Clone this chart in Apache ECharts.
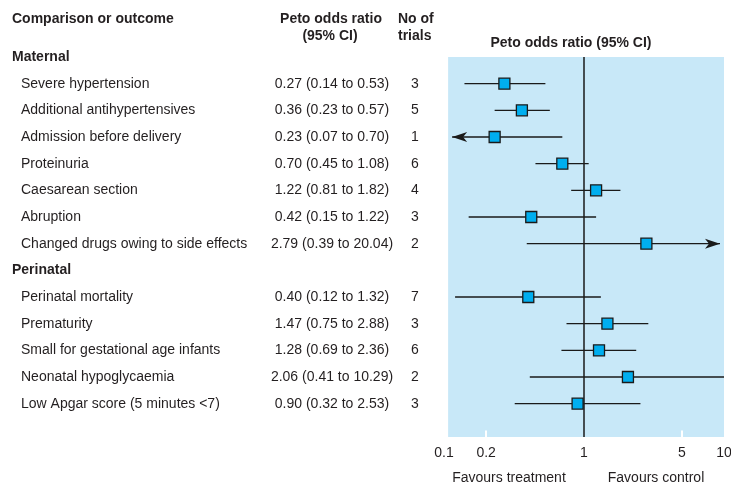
<!DOCTYPE html>
<html>
<head>
<meta charset="utf-8">
<script src="https://cdn.jsdelivr.net/npm/echarts@6/dist/echarts.min.js"></script>
<style>
  html, body { margin: 0; padding: 0; background: #ffffff; }
  #chart { width: 731px; height: 485px; }
</style>
</head>
<body>
<div id="chart"></div>
<script>
// Outcomes grouped by section
const maternalOutcomes = [
  'Severe hypertension',
  'Additional antihypertensives',
  'Admission before delivery',
  'Proteinuria',
  'Caesarean section',
  'Abruption',
  'Changed drugs owing to side effects'
];
const perinatalOutcomes = [
  'Perinatal mortality',
  'Prematurity',
  'Small for gestational age infants',
  'Neonatal hypoglycaemia',
  'Low Apgar score (5 minutes <7)'
];
const sections = ['Maternal', 'Perinatal'];

// Peto odds ratios with 95% CI, maternal then perinatal
const oddsRatio = [0.27, 0.36, 0.23, 0.70, 1.22, 0.42, 2.79, 0.40, 1.47, 1.28, 2.06, 0.90];
const ciLow     = [0.14, 0.23, 0.07, 0.45, 0.81, 0.15, 0.39, 0.12, 0.75, 0.69, 0.41, 0.32];
const ciHigh    = [0.53, 0.57, 0.70, 1.08, 1.82, 1.22, 20.04, 1.32, 2.88, 2.36, 10.29, 2.53];
const trials    = [3, 5, 1, 6, 4, 3, 2, 7, 3, 6, 2, 3];

// Axis tick labels (odds ratio scale); white tick marks inside the panel
const tickValues = [0.1, 0.2, 1, 5, 10];
const tickLabels = ['0.1', '0.2', '1', '5', '10'];
const innerTicks = [0.2, 5];

// ---- layout / style ----
const FONT = '"Liberation Sans", Arial, sans-serif';
const FS = 14;
const TEXT = '#231f20';
const PANEL = '#c8e8f8';
const SQUARE = '#00aeef';
const INK = '#1a1a1a';
const log10 = v => Math.log(v) / Math.LN10;
const X_MIN = -1, X_MAX = 1;          // log10 of 0.1 and 10
const PANEL_START = log10(0.107);
const Y_MAX = 14.25;                  // rows span, header row at 0
const TICK_LEN = 0.24;                // inner tick length in row units

// Build row list: section header followed by its outcomes
const rows = [];
let k = 0;
[maternalOutcomes, perinatalOutcomes].forEach((list, s) => {
  rows.push({ label: sections[s], header: true });
  list.forEach(name => { rows.push({ label: name, header: false, i: k }); k++; });
});

const nameData = [], orData = [], trialData = [], forestData = [];
rows.forEach((r, idx) => {
  if (r.header) {
    nameData.push({ value: [12, idx], label: { formatter: r.label, fontWeight: 'bold' } });
  } else {
    nameData.push({ value: [21, idx], label: { formatter: r.label } });
    const i = r.i;
    const txt = oddsRatio[i].toFixed(2) + ' (' + ciLow[i].toFixed(2) + ' to ' + ciHigh[i].toFixed(2) + ')';
    orData.push({ value: [332, idx], label: { formatter: txt } });
    trialData.push({ value: [415, idx], label: { formatter: String(trials[i]) } });
    forestData.push([idx, log10(oddsRatio[i]), log10(ciLow[i]), log10(ciHigh[i])]);
  }
});

const textSeries = (data, position) => ({
  type: 'scatter',
  xAxisIndex: 1, yAxisIndex: 1,
  symbolSize: 0,
  clip: false,
  silent: true,
  itemStyle: { opacity: 1 },
  data: data,
  label: {
    show: true, position: position, distance: 0, opacity: 1,
    fontFamily: FONT, fontSize: FS, color: TEXT
  }
});

function arrowHead(x, y, dir) {
  const L = 15, H = 5, N = 4;
  return {
    type: 'polygon',
    shape: { points: [[x, y], [x - dir * L, y - H], [x - dir * (L - N), y], [x - dir * L, y + H]] },
    style: { fill: INK }
  };
}

// One row of the forest: CI whisker (with arrow if it runs off the scale) and the estimate square
function renderForest(params, api) {
  const row = api.value(0);
  const est = api.value(1), lo = api.value(2), hi = api.value(3);
  const cs = params.coordSys;
  const panelLeft = api.coord([PANEL_START, row])[0];
  const panelRight = cs.x + cs.width;
  const inset = 4;
  const children = [];
  let xLo = api.coord([lo, row])[0];
  let xHi = api.coord([hi, row])[0];
  const y = api.coord([est, row])[1];
  let leftArrow = false, rightArrow = false;
  if (lo < X_MIN - 0.1) { xLo = panelLeft + inset; leftArrow = true; }
  else if (xLo < panelLeft) { xLo = panelLeft; }
  if (hi > X_MAX + 0.1) { xHi = panelRight - inset; rightArrow = true; }
  else if (xHi > panelRight) { xHi = panelRight; }
  children.push({
    type: 'line',
    shape: { x1: xLo, y1: y, x2: xHi, y2: y },
    style: { stroke: INK, lineWidth: 1.4 }
  });
  if (leftArrow) children.push(arrowHead(xLo, y, -1));
  if (rightArrow) children.push(arrowHead(xHi, y, 1));
  const xe = api.coord([est, row])[0];
  const s = 11;
  children.push({
    type: 'rect',
    shape: { x: xe - s / 2, y: y - s / 2, width: s, height: s },
    style: { fill: SQUARE, stroke: INK, lineWidth: 1.3 }
  });
  return { type: 'group', children: children };
}

const chart = echarts.init(document.getElementById('chart'), null, { renderer: 'canvas' });

const hdr = (text, x, y, align, bold) => ({
  type: 'text', x: x, y: y,
  style: {
    text: text, fill: TEXT, font: (bold ? 'bold ' : '') + FS + 'px ' + FONT,
    align: align, verticalAlign: 'middle'
  }
});

chart.setOption({
  animation: false,
  backgroundColor: '#ffffff',
  grid: [
    { left: 444, right: 7, top: 57, bottom: 48, outerBoundsMode: 'none', containLabel: false },
    { left: 0, width: 440, top: 57, bottom: 48, outerBoundsMode: 'none', containLabel: false }
  ],
  xAxis: [
    {
      type: 'value', gridIndex: 0, min: X_MIN, max: X_MAX,
      splitLine: { show: false },
      axisLine: { show: false },
      axisTick: { show: false },
      axisLabel: {
        show: true, margin: 9,
        customValues: tickValues.map(log10),
        formatter: v => {
          const j = tickValues.findIndex(t => Math.abs(log10(t) - v) < 1e-6);
          return j >= 0 ? tickLabels[j] : '';
        },
        fontFamily: FONT, fontSize: FS, color: TEXT
      }
    },
    { type: 'value', gridIndex: 1, min: 0, max: 440, show: false }
  ],
  yAxis: [
    { type: 'value', gridIndex: 0, min: 0, max: Y_MAX, inverse: true, show: false },
    { type: 'value', gridIndex: 1, min: 0, max: Y_MAX, inverse: true, show: false }
  ],
  series: [
    {
      type: 'line', xAxisIndex: 0, yAxisIndex: 0, data: [], silent: true,
      markArea: {
        silent: true,
        itemStyle: { color: PANEL },
        data: [[{ xAxis: PANEL_START, yAxis: 0 }, { xAxis: X_MAX, yAxis: Y_MAX }]]
      },
      markLine: {
        silent: true, symbol: 'none',
        label: { show: false },
        lineStyle: { color: INK, width: 1.5, type: 'solid' },
        data: [{ xAxis: 0 }]
      }
    },
    {
      type: 'line', xAxisIndex: 0, yAxisIndex: 0, data: [], silent: true, z: 3,
      markLine: {
        silent: true, symbol: 'none',
        label: { show: false },
        lineStyle: { color: '#ffffff', width: 2, type: 'solid' },
        data: innerTicks.map(t => [
          { coord: [log10(t), Y_MAX] },
          { coord: [log10(t), Y_MAX - TICK_LEN] }
        ])
      }
    },
    {
      type: 'custom', xAxisIndex: 0, yAxisIndex: 0,
      renderItem: renderForest,
      clip: false,
      data: forestData,
      z: 5
    },
    textSeries(nameData, 'right'),
    textSeries(orData, 'inside'),
    textSeries(trialData, 'inside')
  ],
  graphic: [
    hdr('Comparison or outcome', 12, 19, 'left', true),
    hdr('Peto odds ratio', 331, 19, 'center', true),
    hdr('(95% CI)', 330, 36, 'center', true),
    hdr('No of', 398, 19, 'left', true),
    hdr('trials', 398, 36, 'left', true),
    hdr('Peto odds ratio (95% CI)', 571, 43, 'center', true),
    hdr('Favours treatment', 509, 478, 'center', false),
    hdr('Favours control', 656, 478, 'center', false)
  ]
});
</script>
</body>
</html>
